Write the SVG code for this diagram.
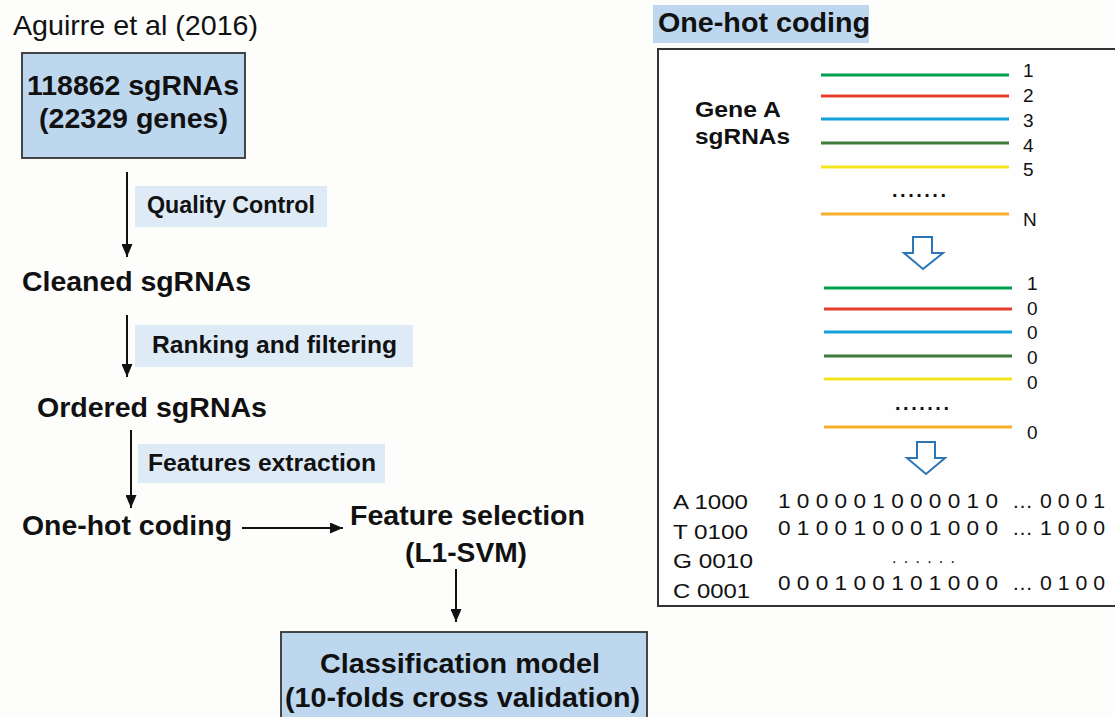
<svg xmlns="http://www.w3.org/2000/svg" width="1115" height="717" viewBox="0 0 1115 717">
  <style>
    .b { font-family: "Liberation Sans", Arial, sans-serif; font-weight: bold; fill: #111; }
    .r { font-family: "Liberation Sans", Arial, sans-serif; fill: #111; }
    .box { fill: #bdd7ee; stroke: #333; stroke-width: 1.8; }
    .tag { fill: #deebf7; }
    .conn { stroke: #111; stroke-width: 2; fill: none; marker-end: url(#head); }
    .seq { stroke-width: 3; }
    .num { font-size: 19px; }
    .hollow { fill: #fff; stroke: #2e75b6; stroke-width: 2; stroke-linejoin: miter; }
  </style>
  <defs>
    <marker id="head" markerUnits="userSpaceOnUse" markerWidth="13" markerHeight="11" refX="13" refY="5.5" orient="auto">
      <path d="M0,0 L13,5.5 L0,11 z" fill="#111"/>
    </marker>
  </defs>

  <rect width="1115" height="717" fill="#fdfdfb"/>

  <!-- workflow (left) -->
  <g id="source">
    <text class="r" x="13" y="35" font-size="28" textLength="245" lengthAdjust="spacingAndGlyphs">Aguirre et al (2016)</text>
  </g>
  <g id="raw-sgrnas">
    <rect class="box" x="22" y="53" width="223" height="105"/>
    <text class="b" x="27" y="95" font-size="27" textLength="212" lengthAdjust="spacingAndGlyphs">118862 sgRNAs</text>
    <text class="b" x="39" y="128" font-size="27" textLength="189" lengthAdjust="spacingAndGlyphs">(22329 genes)</text>
  </g>
  <g id="cleaned">
    <text class="b" x="22" y="291" font-size="27" textLength="229" lengthAdjust="spacingAndGlyphs">Cleaned sgRNAs</text>
  </g>
  <g id="ordered">
    <text class="b" x="37" y="417" font-size="27" textLength="230" lengthAdjust="spacingAndGlyphs">Ordered sgRNAs</text>
  </g>
  <g id="onehot">
    <text class="b" x="22" y="535" font-size="27" textLength="210" lengthAdjust="spacingAndGlyphs">One-hot coding</text>
  </g>
  <g id="selection">
    <text class="b" x="350" y="525" font-size="27" textLength="235" lengthAdjust="spacingAndGlyphs">Feature selection</text>
    <text class="b" x="405" y="562" font-size="27" textLength="122" lengthAdjust="spacingAndGlyphs">(L1-SVM)</text>
  </g>
  <g id="model">
    <rect class="box" x="281" y="632" width="366" height="100"/>
    <text class="b" x="320" y="673" font-size="27" textLength="280" lengthAdjust="spacingAndGlyphs">Classification model</text>
    <text class="b" x="285" y="707" font-size="27" textLength="355" lengthAdjust="spacingAndGlyphs">(10-folds cross validation)</text>
  </g>

  <g id="connectors">
    <line class="conn" x1="127" y1="172" x2="127" y2="257"/>
    <line class="conn" x1="127" y1="315" x2="127" y2="377"/>
    <line class="conn" x1="131" y1="430" x2="131" y2="508"/>
    <line class="conn" x1="242" y1="528" x2="343" y2="528"/>
    <line class="conn" x1="456" y1="569" x2="456" y2="622"/>
    <g id="step-labels">
      <rect class="tag" x="135" y="186" width="192" height="41"/>
      <text class="b" x="147" y="213" font-size="23" textLength="168" lengthAdjust="spacingAndGlyphs">Quality Control</text>
      <rect class="tag" x="135" y="325" width="278" height="42"/>
      <text class="b" x="152" y="353" font-size="23" textLength="245" lengthAdjust="spacingAndGlyphs">Ranking and filtering</text>
      <rect class="tag" x="138" y="444" width="247" height="39"/>
      <text class="b" x="148" y="471" font-size="23" textLength="228" lengthAdjust="spacingAndGlyphs">Features extraction</text>
    </g>
  </g>

  <!-- one-hot coding panel (right) -->
  <g id="panel-title">
    <rect x="653" y="5" width="216" height="38" fill="#bdd7ee"/>
    <text class="b" x="658" y="32" font-size="27" textLength="212" lengthAdjust="spacingAndGlyphs">One-hot coding</text>
  </g>
  <g id="panel">
    <rect x="658" y="49" width="500" height="557" fill="#fefefe" stroke="#333" stroke-width="2"/>
    <text class="b" x="695" y="117" font-size="22" textLength="86" lengthAdjust="spacingAndGlyphs">Gene A</text>
    <text class="b" x="695" y="144" font-size="22" textLength="95" lengthAdjust="spacingAndGlyphs">sgRNAs</text>

    <g id="guides">
      <line class="seq" x1="821" y1="75" x2="1009" y2="75" stroke="#00a04e"/>
      <line class="seq" x1="821" y1="96" x2="1009" y2="96" stroke="#e53d2f"/>
      <line class="seq" x1="821" y1="119" x2="1009" y2="119" stroke="#11a0d9"/>
      <line class="seq" x1="821" y1="143" x2="1009" y2="143" stroke="#3e7b3a"/>
      <line class="seq" x1="821" y1="167" x2="1009" y2="167" stroke="#f3e51d"/>
      <line class="seq" x1="821" y1="214" x2="1009" y2="214" stroke="#f6ae2d"/>
      <text class="r num" x="1023" y="77">1</text>
      <text class="r num" x="1023" y="102">2</text>
      <text class="r num" x="1023" y="127">3</text>
      <text class="r num" x="1023" y="152">4</text>
      <text class="r num" x="1023" y="176">5</text>
      <text class="r num" x="1023" y="226">N</text>
      <text class="b" x="892" y="197" font-size="20" textLength="54" lengthAdjust="spacing">.......</text>
    </g>

    <polygon class="hollow" points="913,237 932,237 932,253 943,253 923,269 904,253 913,253"/>

    <g id="labels">
      <line class="seq" x1="824" y1="288" x2="1012" y2="288" stroke="#00a04e"/>
      <line class="seq" x1="824" y1="309" x2="1012" y2="309" stroke="#e53d2f"/>
      <line class="seq" x1="824" y1="332" x2="1012" y2="332" stroke="#11a0d9"/>
      <line class="seq" x1="824" y1="356" x2="1012" y2="356" stroke="#3e7b3a"/>
      <line class="seq" x1="824" y1="379" x2="1012" y2="379" stroke="#f3e51d"/>
      <line class="seq" x1="824" y1="427" x2="1012" y2="427" stroke="#f6ae2d"/>
      <text class="r num" x="1027" y="290">1</text>
      <text class="r num" x="1027" y="315">0</text>
      <text class="r num" x="1027" y="339">0</text>
      <text class="r num" x="1027" y="364">0</text>
      <text class="r num" x="1027" y="389">0</text>
      <text class="r num" x="1027" y="439">0</text>
      <text class="b" x="895" y="410" font-size="20" textLength="54" lengthAdjust="spacing">.......</text>
    </g>

    <polygon class="hollow" points="917,442 935,442 935,458 945,458 926,474 907,458 917,458"/>

    <g id="encoding">
      <text class="r" x="673" y="509" font-size="21" textLength="75" lengthAdjust="spacingAndGlyphs">A 1000</text>
      <text class="r" x="673" y="539" font-size="21" textLength="75" lengthAdjust="spacingAndGlyphs">T 0100</text>
      <text class="r" x="673" y="568" font-size="21" textLength="80" lengthAdjust="spacingAndGlyphs">G 0010</text>
      <text class="r" x="673" y="598" font-size="21" textLength="77" lengthAdjust="spacingAndGlyphs">C 0001</text>

      <text class="r" x="778" y="508" font-size="21" textLength="220" lengthAdjust="spacingAndGlyphs">1 0 0 0 0 1 0 0 0 0 1 0</text>
      <text class="r" x="1012" y="508" font-size="21" textLength="21" lengthAdjust="spacingAndGlyphs">…</text>
      <text class="r" x="1040" y="508" font-size="21" textLength="65" lengthAdjust="spacingAndGlyphs">0 0 0 1</text>

      <text class="r" x="778" y="535" font-size="21" textLength="220" lengthAdjust="spacingAndGlyphs">0 1 0 0 1 0 0 0 1 0 0 0</text>
      <text class="r" x="1012" y="535" font-size="21" textLength="21" lengthAdjust="spacingAndGlyphs">…</text>
      <text class="r" x="1040" y="535" font-size="21" textLength="65" lengthAdjust="spacingAndGlyphs">1 0 0 0</text>

      <text class="r" x="892" y="563" font-size="16" textLength="63" lengthAdjust="spacing">. . . . . .</text>

      <text class="r" x="778" y="590" font-size="21" textLength="220" lengthAdjust="spacingAndGlyphs">0 0 0 1 0 0 1 0 1 0 0 0</text>
      <text class="r" x="1012" y="590" font-size="21" textLength="21" lengthAdjust="spacingAndGlyphs">…</text>
      <text class="r" x="1040" y="590" font-size="21" textLength="65" lengthAdjust="spacingAndGlyphs">0 1 0 0</text>
    </g>
  </g>
</svg>
